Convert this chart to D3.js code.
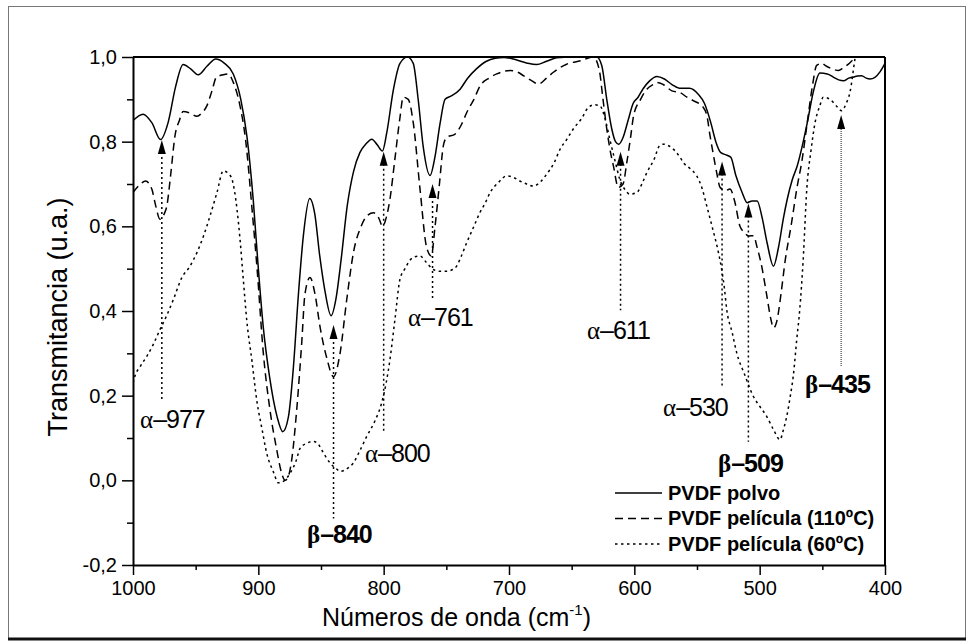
<!DOCTYPE html>
<html>
<head>
<meta charset="utf-8">
<script src="https://cdn.jsdelivr.net/npm/d3@7"></script>
<style>
  body { margin: 0; background: #fff; }
  svg { display: block; font-family: "Liberation Sans", Arial, sans-serif; }
  .axis path, .axis line { stroke: #000; }
  .axis text { font-size: 20px; fill: #000; }
</style>
</head>
<body>
<script>
// --- data (wavenumber cm-1, transmittance) ---
var polvo = [
  [1000,0.85],[992,0.865],[985,0.845],[978,0.805],[972,0.845],[966,0.93],[960,0.982],[954,0.972],
  [948,0.958],[941,0.978],[934,0.995],[927,0.985],[920,0.96],[914,0.90],[909,0.81],[904,0.66],
  [900,0.50],[896,0.36],[891,0.244],[885,0.15],[880.5,0.115],[876,0.15],[872,0.268],[868,0.44],
  [864,0.58],[859,0.666],[855,0.63],[851,0.53],[847,0.45],[842,0.389],[838,0.43],[834,0.52],
  [829,0.65],[824,0.73],[819,0.774],[814,0.795],[809.5,0.806],[805,0.792],[801,0.778],[797.6,0.82],
  [792.3,0.922],[787,0.985],[781,1.0],[776.4,0.985],[772.4,0.898],[768.4,0.787],[763,0.72],[759,0.765],
  [755,0.843],[751,0.90],[746,0.908],[739,0.924],[733,0.95],[726,0.972],[718,0.99],[711,0.997],
  [704,0.999],[695,0.994],[686,0.986],[678,0.982],[670,0.99],[662,0.998],[650,1.0],[640,1.0],
  [630,1.0],[626,0.98],[622,0.90],[618,0.83],[615,0.80],[612.5,0.794],[609,0.81],[605,0.85],
  [601,0.89],[597,0.905],[593,0.925],[588,0.943],[582,0.954],[576,0.948],[570,0.935],[564,0.926],
  [556,0.926],[549,0.912],[544,0.89],[539,0.845],[535,0.80],[531,0.774],[526,0.768],[523,0.763],
  [519,0.72],[514,0.68],[510,0.656],[506,0.66],[502,0.66],[498,0.62],[494,0.56],[489,0.506],
  [485,0.55],[481,0.62],[478,0.664],[474,0.71],[470,0.743],[466,0.79],[462,0.845],[457,0.92],
  [452,0.962],[446,0.96],[441,0.952],[437,0.946],[433,0.944],[429,0.95],[425,0.953],[422,0.955],
  [418.6,0.956],[415,0.95],[412,0.948],[408,0.952],[404,0.965],[400,0.985]
];
var pelicula110 = [
  [1000,0.68],[994,0.70],[990,0.707],[985,0.688],[982,0.65],[978.5,0.617],[975,0.63],[973,0.648],
  [970,0.72],[966.5,0.814],[963,0.85],[960,0.871],[955,0.868],[949,0.86],[945,0.868],[941,0.885],
  [937,0.92],[933.5,0.952],[928,0.958],[924,0.96],[920,0.94],[915,0.89],[910,0.80],[905,0.64],
  [901,0.50],[896,0.30],[890.7,0.166],[885.3,0.072],[881.4,0.017],[878.7,0.0],[876,0.01],[873.4,0.048],
  [869.4,0.166],[865.4,0.324],[862.8,0.44],[858.8,0.479],[854.8,0.44],[850.8,0.363],[845.5,0.29],[840,0.245],
  [834.8,0.30],[829.5,0.426],[824,0.54],[818,0.60],[813.6,0.624],[808,0.632],[804,0.62],[800.8,0.60],
  [798,0.62],[795,0.664],[791,0.76],[787,0.857],[784.4,0.905],[780.4,0.90],[776.4,0.845],[771,0.688],
  [765.7,0.55],[762,0.53],[759,0.60],[755.5,0.70],[752.4,0.79],[749.8,0.81],[743,0.818],[738,0.84],
  [733.7,0.869],[728,0.90],[723,0.932],[716,0.95],[709.8,0.96],[699,0.968],[693,0.964],[688.5,0.956],
  [682,0.944],[676.6,0.936],[670,0.95],[664.6,0.964],[654,0.983],[643,0.991],[632.7,1.0],[628,0.97],
  [625,0.90],[622,0.83],[618,0.76],[616.7,0.743],[612.8,0.692],[609,0.70],[606,0.751],[603,0.81],
  [600.6,0.861],[595,0.90],[590,0.924],[585,0.935],[582,0.94],[577,0.935],[570,0.92],[563.5,0.916],
  [558,0.905],[553,0.897],[545,0.881],[542,0.86],[539.6,0.814],[537,0.77],[534.3,0.727],[531.6,0.692],
  [527,0.685],[523.7,0.688],[520,0.66],[515.7,0.60],[512,0.585],[509,0.577],[505,0.578],[502,0.55],
  [498,0.50],[494.5,0.44],[491,0.38],[489,0.36],[486,0.38],[483,0.44],[479.6,0.52],[475,0.60],
  [470.4,0.688],[466,0.76],[462.4,0.837],[458,0.93],[454.5,0.98],[450,0.985],[447.8,0.98],[442,0.972],
  [437.2,0.968],[433,0.975],[429.2,0.983],[425,0.995],[422.6,1.0],[418,1.03],[412,1.06],[405,1.08],[400,1.09]
];
var pelicula60 = [
  [1000,0.23],[998.5,0.246],[994,0.27],[989,0.293],[984,0.32],[978.5,0.356],[973,0.39],[967.8,0.427],
  [961,0.479],[954.5,0.506],[949,0.538],[944,0.575],[938.6,0.624],[933,0.68],[928,0.731],[924,0.725],
  [921,0.711],[917,0.64],[914.6,0.569],[912,0.475],[909.3,0.38],[905,0.28],[901.3,0.19],[897,0.12],
  [893.3,0.064],[888,0.02],[884,-0.006],[879,0.0],[874.6,0.017],[870,0.045],[866.6,0.076],[861,0.088],
  [856,0.092],[852,0.085],[849.5,0.072],[846,0.055],[842.8,0.041],[838,0.028],[834.8,0.021],[829,0.028],
  [824.2,0.041],[819,0.07],[813.5,0.104],[807,0.14],[801.6,0.183],[798,0.23],[795,0.285],[791,0.38],
  [787,0.475],[783,0.50],[779,0.52],[775,0.528],[771,0.53],[766,0.515],[760.4,0.498],[755,0.494],
  [749.8,0.494],[745,0.498],[741.8,0.506],[738,0.53],[733.8,0.561],[728,0.60],[723.3,0.632],[719,0.655],
  [715,0.68],[708,0.705],[702,0.719],[696,0.715],[691.3,0.707],[686,0.70],[680.6,0.695],[675,0.705],
  [670,0.723],[664,0.75],[659.3,0.782],[654,0.805],[648.7,0.83],[642,0.855],[636.7,0.881],[632,0.887],
  [627.6,0.885],[623,0.85],[619.6,0.806],[615,0.75],[611.6,0.711],[607,0.685],[603.6,0.676],[598,0.68],
  [594,0.70],[590,0.727],[584,0.76],[580,0.79],[576.8,0.794],[570,0.785],[563.5,0.763],[561,0.751],
  [555,0.735],[550.2,0.719],[546,0.69],[542.2,0.648],[538,0.60],[532.9,0.538],[530.3,0.498],[528,0.45],
  [526.3,0.404],[522,0.35],[518.3,0.301],[512,0.25],[505,0.198],[500,0.175],[494.4,0.151],[489,0.12],
  [483.8,0.096],[481,0.12],[478.4,0.151],[475.5,0.20],[473.2,0.246],[470.5,0.33],[468,0.404],[465.3,0.52],
  [462.4,0.688],[459,0.78],[455.8,0.845],[452,0.885],[449.2,0.905],[443.9,0.90],[439,0.885],[434.6,0.873],
  [431,0.89],[428,0.916],[424,0.995],[421,1.05],[418,1.1]
];

var seriesNames = ["PVDF polvo", "PVDF película (110ºC)", "PVDF película (60ºC)"];

// peak annotations: band, phase, arrow tip value, line bottom value
var peakBands  = [977, 840, 800, 761, 611, 530, 509, 435];
var peakPhase  = ["α", "β", "α", "α", "α", "α", "β", "β"];
var peakTip    = [0.804, 0.367, 0.776, 0.70, 0.776, 0.753, 0.654, 0.863];
var peakBottom = [0.19, -0.09, 0.112, 0.426, 0.402, 0.217, 0.091, 0.268];

var xTicks = [1000, 900, 800, 700, 600, 500, 400];
var xMinor = [950, 850, 750, 650, 550, 450];
var yTicks = [-0.2, 0, 0.2, 0.4, 0.6, 0.8, 1.0];
var yMinor = [-0.1, 0.1, 0.3, 0.5, 0.7, 0.9];

// --- layout ---
var W = 974, H = 643;
var plot = {left: 133, right: 885, top: 57, bottom: 565};
// label anchors (wavenumber, transmittance) of each peak label's start/baseline
var labelAt = [[994.4, 0.124], [861.2, -0.148], [814.9, 0.043], [780.6, 0.364],
               [637.8, 0.334], [577.1, 0.152], [533.2, 0.02], [463.8, 0.206]];

var x = d3.scaleLinear().domain([1000, 400]).range([plot.left, plot.right]);
var y = d3.scaleLinear().domain([-0.2, 1.0]).range([plot.bottom, plot.top]);

var svg = d3.select("body").append("svg").attr("width", W).attr("height", H);
svg.append("rect").attr("width", W).attr("height", H).attr("fill", "#fff");

// outer frame
svg.append("rect").attr("x", 8.5).attr("y", 6.5).attr("width", 957).attr("height", 632)
  .attr("fill", "none").attr("stroke", "#777").attr("stroke-width", 1);
svg.append("line").attr("x1", 8).attr("x2", 966).attr("y1", 639).attr("y2", 639)
  .attr("stroke", "#111").attr("stroke-width", 3);

svg.append("clipPath").attr("id", "clip").append("rect")
  .attr("x", plot.left).attr("y", plot.top)
  .attr("width", plot.right - plot.left).attr("height", plot.bottom - plot.top);

var line = d3.line().x(function(d) { return x(d[0]); }).y(function(d) { return y(d[1]); })
  .curve(d3.curveMonotoneX);

var styles = [null, "8,5", "2.5,3.5"];
[polvo, pelicula110, pelicula60].forEach(function(s, i) {
  svg.append("path").datum(s)
    .attr("clip-path", "url(#clip)")
    .attr("d", line)
    .attr("fill", "none")
    .attr("stroke", "#000")
    .attr("stroke-width", 1.5)
    .attr("stroke-dasharray", styles[i]);
});

// axes
var fmt = function(v) { return v.toFixed(1).replace(".", ","); };
svg.append("g").attr("class", "axis").attr("transform", "translate(" + plot.left + ",0)")
  .call(d3.axisLeft(y).tickValues(yTicks).tickFormat(fmt).tickSize(11).tickPadding(5).tickSizeOuter(0));
svg.append("g").attr("class", "axis").attr("transform", "translate(" + plot.left + ",0)")
  .call(d3.axisLeft(y).tickValues(yMinor).tickFormat("").tickSize(6).tickSizeOuter(0))
  .select(".domain").remove();
svg.append("g").attr("class", "axis").attr("transform", "translate(0," + plot.bottom + ")")
  .call(d3.axisBottom(x).tickValues(xTicks).tickFormat(d3.format("d")).tickSize(10).tickPadding(6).tickSizeOuter(0));
svg.append("g").attr("class", "axis").attr("transform", "translate(0," + plot.bottom + ")")
  .call(d3.axisBottom(x).tickValues(xMinor).tickFormat("").tickSize(5).tickSizeOuter(0))
  .select(".domain").remove();
svg.selectAll(".axis .domain").attr("stroke-width", 2);
svg.selectAll(".axis .tick line").attr("stroke-width", 1.5);

// top and right border
svg.append("line").attr("x1", plot.left).attr("x2", plot.right).attr("y1", plot.top).attr("y2", plot.top)
  .attr("stroke", "#000").attr("stroke-width", 2);
svg.append("line").attr("x1", plot.right).attr("x2", plot.right).attr("y1", plot.top).attr("y2", plot.bottom)
  .attr("stroke", "#000").attr("stroke-width", 2);

// axis titles
svg.append("text").attr("transform", "translate(67," + 317 + ") rotate(-90)")
  .attr("text-anchor", "middle").attr("font-size", 27).text("Transmitancia (u.a.)");
var xt = svg.append("text").attr("x", 322).attr("y", 626).attr("font-size", 25);
xt.append("tspan").text("Números de onda (cm");
xt.append("tspan").attr("font-size", 15).attr("dy", -11).text("-1");
xt.append("tspan").attr("dy", 11).text(")");

// peak annotations
var ann = svg.append("g");
peakBands.forEach(function(b, i) {
  var px = x(b), tipY = y(peakTip[i]);
  var fine = b === 435;
  ann.append("line").attr("x1", px).attr("x2", px)
    .attr("y1", tipY + 12).attr("y2", y(peakBottom[i]))
    .attr("stroke", fine ? "#444" : "#000")
    .attr("stroke-width", fine ? 1.2 : 1.5)
    .attr("stroke-dasharray", fine ? "1,1" : "2,3");
  ann.append("path")
    .attr("d", "M" + px + "," + tipY + "L" + (px - 4) + "," + (tipY + 14) + "L" + (px + 4) + "," + (tipY + 14) + "Z")
    .attr("fill", "#000");
  var bold = peakPhase[i] === "β";
  var t = ann.append("text").attr("x", x(labelAt[i][0])).attr("y", y(labelAt[i][1]))
    .attr("font-size", 25).attr("font-weight", bold ? "bold" : "normal");
  t.append("tspan").attr("font-family", "'Liberation Serif', serif").text(peakPhase[i]);
  t.append("tspan").attr("letter-spacing", -1).text("–" + b);
});

// legend
var leg = svg.append("g");
seriesNames.forEach(function(n, i) {
  var ly = 493 + i * 25.5;
  leg.append("line").attr("x1", 615).attr("x2", 662).attr("y1", ly).attr("y2", ly)
    .attr("stroke", "#000").attr("stroke-width", 1.3).attr("stroke-dasharray", styles[i]);
  leg.append("text").attr("x", 668).attr("y", ly + 6.5).attr("font-size", 20)
    .attr("font-weight", "bold").text(n);
});
</script>
</body>
</html>
